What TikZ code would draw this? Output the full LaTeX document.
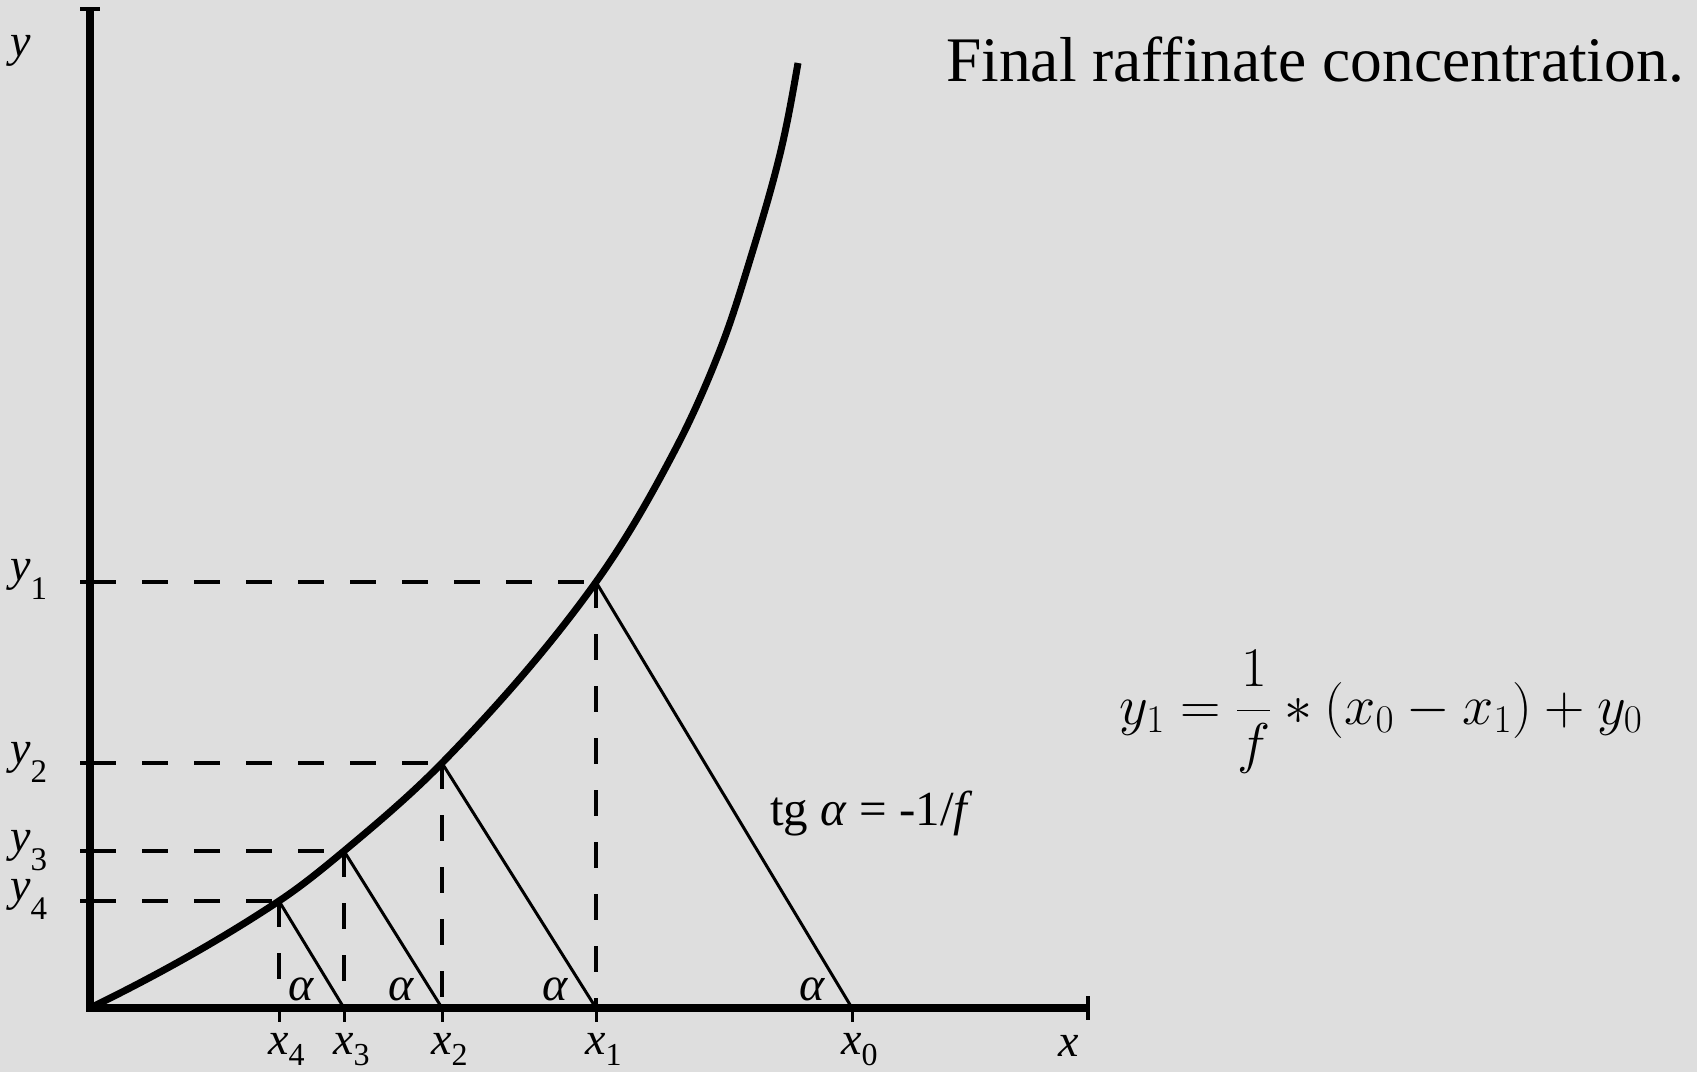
\RequirePackage{fix-cm}
\documentclass[tikz,border=0pt]{standalone}
\usepackage{fontspec}
\setmainfont{Liberation Serif}
\definecolor{bgc}{RGB}{222,222,222}
\newcommand{\axlab}[2]{\fontsize{46}{46}\selectfont\itshape #1\/\raisebox{-0.42em}{\upshape\fontsize{33}{33}\selectfont #2}}
\newcommand{\axlabx}[2]{\fontsize{46}{46}\selectfont\itshape #1\/\raisebox{-0.25em}{\upshape\fontsize{32}{32}\selectfont #2}}
\begin{document}
\begin{tikzpicture}[x=1pt,y=-1pt,
  axis/.style={line width=8pt,line join=miter},
  curvestyle/.style={line width=7pt},
  opline/.style={line width=3pt},
  guide/.style={line width=4pt,dash pattern=on 26pt off 26pt},
  tickmark/.style={line width=4pt},
  lab/.style={inner sep=0pt,anchor=base west},
  alab/.style={inner sep=0pt,anchor=base,font=\fontsize{48}{48}\selectfont\itshape}]
\useasboundingbox (0,0) rectangle (1697,1072);
\fill[bgc] (0,0) rectangle (1697,1072);
% key points
\coordinate (O) at (90,1008);
\coordinate (Ytop) at (90,9);
\coordinate (Xend) at (1088,1008);
\coordinate (P1) at (596,582);
\coordinate (P2) at (442,763);
\coordinate (P3) at (344,851);
\coordinate (P4) at (279,901);
\coordinate (Q1) at (675,450);
\coordinate (Q2) at (720,350);
\coordinate (Q3) at (753,250);
\coordinate (Q4) at (781,150);
\coordinate (T) at (798,63);
\coordinate (A0) at (852,1008);
\coordinate (A1) at (596,1008);
\coordinate (A2) at (442,1008);
\coordinate (A3) at (344,1008);
\coordinate (A4) at (279,1008);
\coordinate (B1) at (90,582);
\coordinate (B2) at (90,763);
\coordinate (B3) at (90,851);
\coordinate (B4) at (90,901);
% axes
\draw[axis] (Ytop) -- (O) -- (Xend);
\draw[tickmark] (80,9) -- (100,9);
\draw[tickmark] (1088,996) -- (1088,1020);
% y ticks and guides
\foreach \b in {B1,B2,B3,B4}{\draw[tickmark] (\b) -- ++(-10,0);}
\draw[guide] (B1) -- (P1);
\draw[guide] (B2) -- (P2);
\draw[guide] (B3) -- (P3);
\draw[guide] (B4) -- (P4);
\draw[guide] (P1) -- (A1);
\draw[guide] (P2) -- (A2);
\draw[guide] (P3) -- (A3);
\draw[guide] (P4) -- (A4);
% x ticks
\foreach \a in {A0,A1,A2,A3,A4}{\draw[line width=3pt] (\a) -- ++(0,14);}
% operating lines
\draw[opline] (P1) -- (A0);
\draw[opline] (P2) -- (A1);
\draw[opline] (P3) -- (A2);
\draw[opline] (P4) -- (A3);
% equilibrium curve
\draw[curvestyle] (O)
  .. controls (155.1,976.3) and (218.6,941.0) .. (P4)
  .. controls (301.8,885.9) and (323.0,868.5) .. (P3)
  .. controls (377.7,822.9) and (411.3,794.4) .. (P2)
  .. controls (497.3,706.3) and (549.9,646.4) .. (P1)
  .. controls (625.9,540.3) and (651.2,495.5) .. (Q1)
  .. controls (692.0,417.6) and (706.7,384.1) .. (Q2)
  .. controls (732.8,317.3) and (742.7,283.6) .. (Q3)
  .. controls (763.1,216.9) and (773.0,183.7) .. (Q4)
  .. controls (787.8,121.3) and (792.9,92.1) .. (T);
% labels
\node[lab] (ly) at (10,56) {\fontsize{46}{46}\selectfont\itshape y};
\node[lab] (ly1) at (10,580) {\axlab{y}{1}};
\node[lab] (ly2) at (10,763) {\axlab{y}{2}};
\node[lab] (ly3) at (10,851) {\axlab{y}{3}};
\node[lab] (ly4) at (10,900) {\axlab{y}{4}};
\node[lab] (lx4) at (268,1054) {\axlabx{x}{4}};
\node[lab] (lx3) at (333,1054) {\axlabx{x}{3}};
\node[lab] (lx2) at (431,1054) {\axlabx{x}{2}};
\node[lab] (lx1) at (585,1054) {\axlabx{x}{1}};
\node[lab] (lx0) at (841,1054) {\axlabx{x}{0}};
\node[lab] (lx) at (1058,1056) {\fontsize{46}{46}\selectfont\itshape x};
\node[alab] (al1) at (301,1000) {α};
\node[alab] (al2) at (401,1000) {α};
\node[alab] (al3) at (555,1000) {α};
\node[alab] (al4) at (812,1000) {α};
\node[lab] (tg) at (770,825) {\fontsize{49}{49}\selectfont tg \textit{α} = -1/\textit{f}};
\node[lab] (title) at (946,81) {\fontsize{63.5}{63.5}\selectfont Final raffinate concentration.};
\node[inner sep=0pt] (eq) at (1381,712) {\fontsize{56}{56}\selectfont $\displaystyle y_1 = \frac{1}{f} \ast (x_0 - x_1) + y_0$};
\end{tikzpicture}
\end{document}
